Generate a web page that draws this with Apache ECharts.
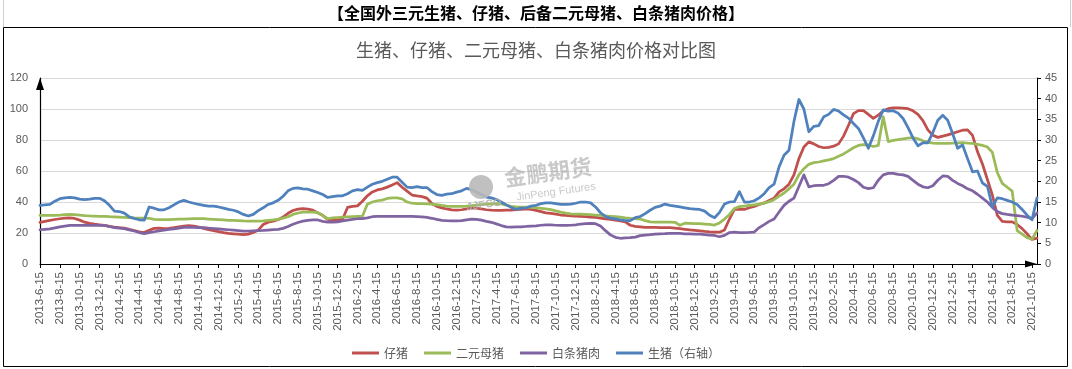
<!DOCTYPE html>
<html><head><meta charset="utf-8">
<script src="https://cdn.jsdelivr.net/npm/echarts@6/dist/echarts.min.js"></script>
<style>html,body{margin:0;padding:0;background:#fff}#c{width:1072px;height:369px}</style>
</head><body><div id="c"></div>
<script>
// semi-monthly categories: 2013-6-15 ... 2021-10-15, 2021-11-1
const categories = ['2013-6-15'];
for (let y = 2013, m = 7; y < 2021 || (y === 2021 && m <= 11);) {
  categories.push(y + '-' + m + '-1');
  if (!(y === 2021 && m === 11)) categories.push(y + '-' + m + '-15');
  m++; if (m > 12) { m = 1; y++; }
}
const seriesNames = ['仔猪', '二元母猪', '白条猪肉', '生猪（右轴）'];

// 仔猪 (left axis)
const piglet = [
26.8,27.5,28.1,28.7,29.2,29.6,29.8,29.4,28.3,27.0,
26.2,25.7,25.3,24.9,24.3,23.8,23.4,23.1,22.3,21.6,
20.8,20.3,21.8,23.0,23.2,22.9,23.0,23.4,23.9,24.4,
24.7,24.5,23.8,23.0,22.1,21.5,20.9,20.3,19.8,19.5,
19.2,18.9,19.3,20.3,21.9,25.5,27.0,27.7,28.6,30.3,
32.7,34.5,35.4,35.7,35.4,34.7,33.0,31.4,28.8,28.1,
28.5,28.9,36.5,37.2,37.5,40.5,44.0,46.5,47.8,48.5,
49.6,51.0,52.5,49.5,47.0,44.5,43.9,43.5,42.5,39.0,
37.2,36.2,35.5,34.9,34.8,35.0,35.5,36.2,36.0,35.5,
35.0,34.7,34.6,34.6,34.7,34.8,35.0,35.3,35.5,35.3,
34.6,33.8,33.0,32.6,32.2,31.6,31.4,31.1,30.9,30.7,
30.5,30.3,30.1,29.6,29.1,28.8,28.3,27.8,27.2,25.0,
24.3,24.0,23.6,23.7,23.6,23.5,23.4,23.4,23.2,22.8,
22.4,22.0,21.7,21.4,21.0,20.7,20.5,20.5,22.0,29.0,
35.4,35.3,35.2,36.3,37.2,38.4,39.4,41.0,42.5,46.5,
48.5,51.5,57.5,68.0,75.5,78.8,77.5,75.8,75.0,75.3,
76.0,77.5,82.5,89.5,97.0,99.0,99.0,96.5,94.0,96.0,
98.8,100.2,100.8,100.8,100.6,100.2,98.8,96.5,92.5,86.5,
83.0,81.7,82.5,83.3,84.3,85.3,86.3,86.5,83.0,72.5,
64.5,54.5,44.5,31.4,27.5,27.2,27.2,25.5,22.8,19.5,
15.8,16.7];

// 二元母猪 (left axis)
const sow = [
31.4,31.4,31.4,31.4,31.5,31.8,32.0,31.8,31.5,31.2,
31.0,30.9,30.8,30.7,30.5,30.4,30.3,30.1,29.9,29.7,
29.6,29.6,29.5,28.8,28.6,28.6,28.6,28.8,28.9,29.0,
29.1,29.2,29.2,29.2,29.0,28.8,28.6,28.4,28.2,28.1,
28.0,27.8,27.7,27.7,27.7,27.8,28.1,28.4,28.8,29.6,
30.5,32.0,32.9,33.5,33.5,33.5,33.1,31.2,29.2,29.7,
30.0,30.2,30.4,30.6,30.7,30.8,38.5,40.0,40.8,41.2,
42.3,42.6,42.6,42.0,40.0,39.2,39.0,38.9,38.8,38.6,
38.3,37.8,37.4,37.2,37.2,37.2,37.3,37.6,38.0,38.3,
38.6,38.8,38.9,38.8,38.0,37.2,36.8,36.7,36.7,36.6,
36.3,35.9,35.5,35.1,34.3,33.5,32.8,32.4,32.2,32.1,
32.0,31.8,31.6,31.4,31.1,30.8,30.5,30.2,29.8,29.5,
29.3,29.0,28.0,27.2,27.0,27.0,27.0,27.0,26.9,25.0,
26.3,26.2,26.1,26.0,25.8,25.5,25.1,26.5,29.0,32.0,
35.8,37.0,37.4,37.8,38.2,38.6,39.3,40.2,41.5,43.8,
45.8,48.5,51.5,57.5,61.5,64.3,65.4,65.8,66.5,67.2,
68.0,69.5,71.0,73.0,75.0,76.5,77.0,76.8,75.8,76.5,
95.0,79.0,79.7,80.2,80.7,81.2,81.5,80.8,79.5,78.6,
78.0,77.8,77.8,77.9,78.0,78.2,78.3,78.0,77.8,77.2,
76.5,75.5,72.0,59.0,52.0,49.5,47.0,21.5,19.2,17.0,
16.0,21.6];

// 白条猪肉 (left axis)
const pork = [
22.1,22.4,22.7,23.3,24.0,24.5,24.9,24.9,24.9,24.9,
24.9,24.9,24.9,24.9,24.2,23.4,23.1,22.8,22.0,21.3,
20.3,19.6,20.2,20.8,21.4,21.8,22.3,22.7,23.2,23.6,
23.8,23.7,23.5,23.4,23.1,22.9,22.7,22.4,22.1,21.8,
21.5,21.2,21.2,21.4,21.6,21.7,21.9,22.1,22.3,23.0,
24.2,25.6,26.8,27.7,28.2,28.5,28.4,27.5,27.0,27.0,
27.2,27.8,28.3,28.8,29.2,29.3,29.8,30.5,30.7,30.7,
30.7,30.7,30.7,30.7,30.7,30.7,30.6,30.4,30.1,29.5,
28.8,28.2,28.0,27.9,27.8,28.0,28.5,29.0,28.8,28.3,
27.5,26.9,25.9,24.8,24.0,23.8,24.0,24.0,24.2,24.5,
24.6,25.0,25.3,25.2,25.0,24.9,24.9,25.0,25.3,25.8,
26.0,26.2,26.0,24.5,21.5,18.8,17.2,16.6,16.8,17.0,
17.3,18.3,18.7,18.9,19.3,19.5,19.6,19.8,19.8,19.7,
19.5,19.4,19.3,19.2,19.0,18.7,18.4,17.6,18.5,20.3,
20.5,20.3,20.3,20.4,20.6,23.5,25.4,27.5,29.0,33.5,
37.8,40.5,42.5,50.0,57.5,49.8,50.5,50.8,50.8,51.8,
54.0,56.5,56.6,56.0,54.5,52.5,49.5,48.6,49.2,54.0,
57.5,58.5,58.5,57.8,57.5,56.5,54.0,51.5,49.8,49.2,
50.5,54.0,56.8,56.5,54.0,52.0,50.5,48.5,47.2,45.0,
42.5,40.0,36.5,33.8,32.5,32.0,31.6,31.2,30.8,30.2,
29.3,33.0];

// 生猪 (right axis)
const hog = [
14.2,14.3,14.4,15.2,15.8,16.0,16.1,16.0,15.7,15.6,
15.7,15.9,15.9,15.3,14.2,12.8,12.7,12.3,11.4,11.0,
10.7,10.6,13.8,13.5,13.1,13.1,13.6,14.3,15.0,15.4,
15.0,14.7,14.4,14.2,14.0,14.0,13.8,13.5,13.2,13.0,
12.6,12.0,11.6,12.0,12.9,13.6,14.4,14.8,15.4,16.4,
17.7,18.3,18.4,18.2,18.1,17.7,17.3,16.8,16.1,16.3,
16.5,16.5,17.0,17.7,18.0,17.8,18.6,19.3,19.7,20.0,
20.5,21.0,21.0,19.8,18.6,18.5,18.7,18.5,18.5,17.5,
16.8,16.6,16.9,17.0,17.4,17.7,18.3,18.0,17.4,16.8,
16.2,16.0,15.6,15.0,14.3,13.7,13.2,13.5,13.6,14.0,
14.2,14.6,14.8,14.8,14.6,14.4,14.4,14.5,14.7,15.0,
15.0,14.8,13.8,12.4,11.5,11.1,10.9,10.7,10.5,10.5,
11.2,11.5,12.2,13.0,13.7,14.0,14.5,14.2,14.0,13.8,
13.6,13.4,13.3,13.2,12.8,11.8,11.2,12.5,14.5,15.0,
15.1,17.5,15.0,15.0,15.3,16.0,17.0,18.5,19.3,23.5,
26.3,27.5,34.5,39.8,37.5,32.0,33.3,33.5,35.6,36.2,
37.4,37.0,36.1,35.3,34.0,32.8,30.5,28.0,31.0,34.5,
37.3,37.0,37.1,36.5,35.2,33.0,30.5,28.6,29.3,29.3,
31.8,34.8,36.0,34.8,31.5,28.0,28.8,25.5,22.3,22.5,
19.6,18.8,13.8,16.0,15.8,15.4,15.0,14.4,13.2,11.8,
10.7,16.0];

const leftTicks = { min: 0, max: 120, interval: 20 };
const rightTicks = { min: 0, max: 45, interval: 5 };
const colors = ['#C0504D', '#9BBB59', '#8064A2', '#4F81BD'];
const cjk = '"Noto Sans CJK SC", sans-serif';
const lat = '"Liberation Sans", Arial, sans-serif';

const chart = echarts.init(document.getElementById('c'), null, { renderer: 'canvas' });

function lineSeries(name, data, idx, axis) {
  return {
    name: name, type: 'line', data: data, yAxisIndex: axis,
    symbol: 'none', showSymbol: false, smooth: false,
    lineStyle: { width: 2.75, color: colors[idx], cap: 'round', join: 'round' },
    itemStyle: { color: colors[idx] },
    emphasis: { disabled: true }
  };
}

chart.setOption({
  animation: false,
  backgroundColor: '#fff',
  title: [
    { text: '【全国外三元生猪、仔猪、后备二元母猪、白条猪肉价格】', left: 'center', top: 5, padding: 0,
      textStyle: { fontFamily: cjk, fontSize: 16, fontWeight: 'bold', color: '#000' } },
    { text: '生猪、仔猪、二元母猪、白条猪肉价格对比图', left: 'center', top: 41, padding: 0,
      textStyle: { fontFamily: cjk, fontSize: 18, fontWeight: 'normal', color: '#595959' } }
  ],
  legend: {
    data: seriesNames, left: 'center', top: 342, icon: 'rect', itemWidth: 27, itemHeight: 3, itemGap: 16,
    textStyle: { fontFamily: cjk, fontSize: 12, color: '#595959' }
  },
  grid: { left: 40, right: 35, top: 78, bottom: 105, containLabel: false },
  xAxis: {
    type: 'category', data: categories, boundaryGap: false,
    axisLine: { lineStyle: { color: '#000', width: 1 }, symbol: ['none', 'triangle'], symbolSize: [7, 12], symbolOffset: [0, -6] },
    axisTick: { show: true, interval: 3, length: 4, lineStyle: { color: '#000' } },
    axisLabel: { interval: 3, rotate: 90, fontFamily: lat, fontSize: 11.5, color: '#595959', margin: 8 },
    splitLine: { show: false }
  },
  yAxis: [
    { type: 'value', min: leftTicks.min, max: leftTicks.max, interval: leftTicks.interval,
      axisLine: { show: true, lineStyle: { color: '#000', width: 1.2 }, symbol: ['none', 'triangle'], symbolSize: [8, 12], symbolOffset: [0, -6] },
      axisTick: { show: false },
      axisLabel: { fontFamily: lat, fontSize: 11, color: '#595959', margin: 12 },
      splitLine: { show: true, lineStyle: { color: '#D9D9D9', width: 1 } } },
    { type: 'value', position: 'right', min: rightTicks.min, max: rightTicks.max, interval: rightTicks.interval,
      axisLine: { show: true, lineStyle: { color: '#000', width: 1 } },
      axisTick: { show: true, length: 4, lineStyle: { color: '#000' } },
      axisLabel: { fontFamily: lat, fontSize: 11, color: '#595959', margin: 8 },
      splitLine: { show: false } }
  ],
  series: [
    lineSeries(seriesNames[0], piglet, 0, 0),
    lineSeries(seriesNames[1], sow, 1, 0),
    lineSeries(seriesNames[2], pork, 2, 0),
    lineSeries(seriesNames[3], hog, 3, 1)
  ],
  graphic: [
    { type: 'rect', silent: true, z: 0, shape: { x: 3.5, y: 27.5, width: 1064, height: 339 },
      style: { fill: 'none', stroke: '#000', lineWidth: 1 } },
    { type: 'line', silent: true, shape: { x1: 3.5, y1: 0, x2: 3.5, y2: 27 }, style: { stroke: '#D0D0D0', lineWidth: 1 } },
    { type: 'line', silent: true, shape: { x1: 1070.5, y1: 0, x2: 1070.5, y2: 27 }, style: { stroke: '#D0D0D0', lineWidth: 1 } },
    { type: 'circle', silent: true, z: 100, shape: { cx: 481, cy: 187, r: 12 }, style: { fill: 'rgba(185,185,185,0.9)' } },
    { type: 'text', silent: true, z: 100, x: 484, y: 205, rotation: 0.14,
      style: { text: 'JJFCO', fontFamily: lat, fontSize: 11, fontWeight: 'bold', fill: 'rgba(175,175,175,0.85)', textAlign: 'center', textVerticalAlign: 'middle' } },
    { type: 'text', silent: true, z: 100, x: 548, y: 172, rotation: 0.14,
      style: { text: '金鹏期货', fontFamily: cjk, fontSize: 22, fontWeight: 'bold', fill: 'rgba(165,165,165,0.6)', textAlign: 'center', textVerticalAlign: 'middle' } },
    { type: 'text', silent: true, z: 100, x: 556, y: 192, rotation: 0.14,
      style: { text: 'JinPeng Futures', fontFamily: lat, fontSize: 11, fill: 'rgba(165,165,165,0.6)', textAlign: 'center', textVerticalAlign: 'middle' } }
  ]
});
</script></body></html>
